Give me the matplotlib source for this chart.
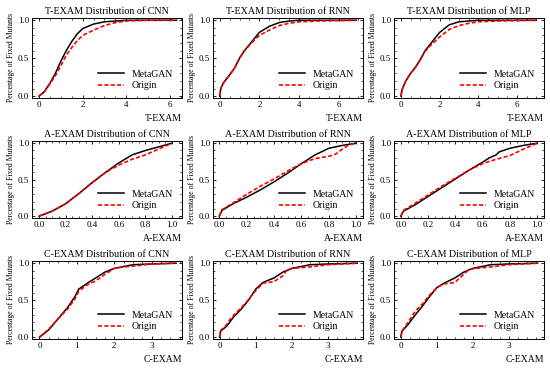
import numpy as np
import matplotlib
matplotlib.use('Agg')
import matplotlib.pyplot as plt
from matplotlib.ticker import AutoMinorLocator

plt.rcParams['font.family'] = ['Liberation Serif', 'DejaVu Serif']

MODELS = ['CNN', 'RNN', 'MLP']
METRICS = ['T-EXAM', 'A-EXAM', 'C-EXAM']

# ---- T-EXAM curves (x, cumulative fraction) ----
t_cnn_meta_x = [0, 0.25, 0.5, 0.75, 1.0, 1.25, 1.5, 1.75, 2.0, 2.5, 3.0, 3.5, 4.0, 6.3]
t_cnn_meta_y = [0, 0.06, 0.17, 0.30, 0.46, 0.60, 0.72, 0.82, 0.89, 0.95, 0.98, 0.99, 1.0, 1.0]
t_cnn_orig_x = [0, 0.25, 0.5, 0.75, 1.0, 1.25, 1.5, 1.75, 2.0, 2.5, 3.0, 3.5, 4.0, 5.0, 6.3]
t_cnn_orig_y = [0, 0.06, 0.16, 0.27, 0.40, 0.54, 0.64, 0.73, 0.80, 0.87, 0.93, 0.97, 0.99, 1.0, 1.0]

t_rnn_meta_x = [0, 0.05, 0.2, 0.5, 0.75, 1.0, 1.25, 1.5, 1.75, 2.0, 2.5, 3.0, 3.5, 4.0, 6.9]
t_rnn_meta_y = [0, 0.10, 0.18, 0.28, 0.37, 0.50, 0.60, 0.68, 0.76, 0.84, 0.92, 0.97, 0.99, 1.0, 1.0]
t_rnn_orig_x = [0, 0.05, 0.2, 0.5, 0.75, 1.0, 1.25, 1.5, 1.75, 2.0, 2.5, 3.0, 3.5, 4.0, 5.0, 6.9]
t_rnn_orig_y = [0, 0.10, 0.18, 0.28, 0.37, 0.50, 0.60, 0.67, 0.74, 0.80, 0.87, 0.93, 0.96, 0.98, 0.99, 1.0]

t_mlp_meta_x = [0, 0.05, 0.25, 0.5, 0.75, 1.0, 1.25, 1.5, 1.75, 2.0, 2.5, 3.0, 3.5, 4.0, 7.0]
t_mlp_meta_y = [0, 0.08, 0.20, 0.30, 0.38, 0.48, 0.60, 0.68, 0.76, 0.84, 0.94, 0.98, 0.99, 1.0, 1.0]
t_mlp_orig_x = [0, 0.05, 0.25, 0.5, 0.75, 1.0, 1.25, 1.5, 1.75, 2.0, 2.5, 3.0, 3.5, 4.0, 5.0, 7.0]
t_mlp_orig_y = [0, 0.08, 0.20, 0.30, 0.38, 0.48, 0.59, 0.66, 0.72, 0.78, 0.88, 0.93, 0.96, 0.98, 0.99, 1.0]

# ---- A-EXAM curves ----
a_cnn_meta_x = [0, 0.1, 0.2, 0.3, 0.4, 0.5, 0.6, 0.7, 0.8, 0.9, 1.0]
a_cnn_meta_y = [0, 0.07, 0.17, 0.31, 0.46, 0.60, 0.73, 0.84, 0.90, 0.95, 1.0]
a_cnn_orig_x = [0, 0.1, 0.2, 0.3, 0.4, 0.5, 0.6, 0.7, 0.8, 0.9, 1.0]
a_cnn_orig_y = [0, 0.07, 0.17, 0.31, 0.46, 0.60, 0.70, 0.78, 0.84, 0.92, 1.0]

a_rnn_meta_x = [0, 0.02, 0.1, 0.2, 0.3, 0.4, 0.5, 0.6, 0.7, 0.8, 0.9, 1.0]
a_rnn_meta_y = [0, 0.08, 0.17, 0.26, 0.36, 0.47, 0.59, 0.72, 0.84, 0.93, 0.97, 1.0]
a_rnn_orig_x = [0, 0.02, 0.1, 0.2, 0.3, 0.4, 0.5, 0.6, 0.7, 0.8, 0.85, 0.9, 0.95, 1.0]
a_rnn_orig_y = [0, 0.09, 0.18, 0.30, 0.41, 0.51, 0.62, 0.72, 0.79, 0.82, 0.85, 0.92, 0.98, 1.0]

a_mlp_meta_x = [0, 0.02, 0.1, 0.2, 0.3, 0.4, 0.5, 0.6, 0.65, 0.7, 0.72, 0.8, 0.9, 1.0]
a_mlp_meta_y = [0, 0.07, 0.15, 0.27, 0.39, 0.51, 0.63, 0.74, 0.80, 0.84, 0.88, 0.93, 0.97, 1.0]
a_mlp_orig_x = [0, 0.02, 0.1, 0.2, 0.3, 0.4, 0.5, 0.6, 0.7, 0.8, 0.9, 1.0]
a_mlp_orig_y = [0, 0.08, 0.17, 0.29, 0.41, 0.52, 0.63, 0.72, 0.78, 0.83, 0.92, 1.0]

# ---- C-EXAM curves ----
c_cnn_meta_x = [0, 0.25, 0.5, 0.75, 0.95, 1.05, 1.25, 1.5, 1.75, 2.0, 2.5, 3.0, 3.65]
c_cnn_meta_y = [0, 0.10, 0.25, 0.40, 0.55, 0.65, 0.72, 0.80, 0.88, 0.93, 0.98, 0.99, 1.0]
c_cnn_orig_x = [0, 0.25, 0.5, 0.75, 0.95, 1.05, 1.25, 1.5, 1.75, 2.0, 2.25, 2.5, 3.0, 3.65]
c_cnn_orig_y = [0, 0.11, 0.25, 0.38, 0.52, 0.62, 0.70, 0.76, 0.85, 0.93, 0.95, 0.96, 0.99, 1.0]

c_rnn_meta_x = [0, 0.03, 0.2, 0.4, 0.6, 0.8, 1.0, 1.2, 1.5, 1.75, 2.0, 2.5, 3.0, 3.8]
c_rnn_meta_y = [0, 0.08, 0.15, 0.28, 0.38, 0.50, 0.65, 0.74, 0.80, 0.88, 0.93, 0.98, 0.99, 1.0]
c_rnn_orig_x = [0, 0.03, 0.2, 0.3, 0.5, 0.7, 1.0, 1.2, 1.5, 1.75, 1.85, 2.0, 2.5, 3.0, 3.8]
c_rnn_orig_y = [0, 0.09, 0.17, 0.25, 0.35, 0.45, 0.63, 0.73, 0.75, 0.83, 0.90, 0.93, 0.95, 0.98, 1.0]

c_mlp_meta_x = [0, 0.03, 0.2, 0.4, 0.6, 0.8, 1.0, 1.2, 1.5, 1.75, 2.0, 2.5, 3.0, 3.8]
c_mlp_meta_y = [0, 0.08, 0.17, 0.30, 0.42, 0.55, 0.67, 0.73, 0.80, 0.88, 0.93, 0.98, 0.99, 1.0]
c_mlp_orig_x = [0, 0.03, 0.2, 0.4, 0.6, 0.8, 1.0, 1.2, 1.5, 1.75, 1.9, 2.5, 3.0, 3.8]
c_mlp_orig_y = [0, 0.08, 0.20, 0.35, 0.45, 0.57, 0.67, 0.72, 0.74, 0.85, 0.92, 0.95, 0.98, 1.0]

CURVES = {
	('T-EXAM', 'CNN'): (t_cnn_meta_x, t_cnn_meta_y, t_cnn_orig_x, t_cnn_orig_y),
	('T-EXAM', 'RNN'): (t_rnn_meta_x, t_rnn_meta_y, t_rnn_orig_x, t_rnn_orig_y),
	('T-EXAM', 'MLP'): (t_mlp_meta_x, t_mlp_meta_y, t_mlp_orig_x, t_mlp_orig_y),
	('A-EXAM', 'CNN'): (a_cnn_meta_x, a_cnn_meta_y, a_cnn_orig_x, a_cnn_orig_y),
	('A-EXAM', 'RNN'): (a_rnn_meta_x, a_rnn_meta_y, a_rnn_orig_x, a_rnn_orig_y),
	('A-EXAM', 'MLP'): (a_mlp_meta_x, a_mlp_meta_y, a_mlp_orig_x, a_mlp_orig_y),
	('C-EXAM', 'CNN'): (c_cnn_meta_x, c_cnn_meta_y, c_cnn_orig_x, c_cnn_orig_y),
	('C-EXAM', 'RNN'): (c_rnn_meta_x, c_rnn_meta_y, c_rnn_orig_x, c_rnn_orig_y),
	('C-EXAM', 'MLP'): (c_mlp_meta_x, c_mlp_meta_y, c_mlp_orig_x, c_mlp_orig_y),
}

XLIMS = {
	('T-EXAM', 'CNN'): (-0.32, 6.55), ('T-EXAM', 'RNN'): (-0.34, 7.23), ('T-EXAM', 'MLP'): (-0.36, 7.4),
	('A-EXAM', 'CNN'): (-0.053, 1.075), ('A-EXAM', 'RNN'): (-0.046, 1.05), ('A-EXAM', 'MLP'): (-0.05, 1.05),
	('C-EXAM', 'CNN'): (-0.2, 3.81), ('C-EXAM', 'RNN'): (-0.18, 3.96), ('C-EXAM', 'MLP'): (-0.19, 3.98),
}

W, H = 550, 369
COL_LEFT = [32, 213, 394]
AX_W = 150
ROW_TOP = [18, 141, 261]
ROW_BOT = [98, 218, 339]

fig = plt.figure(figsize=(W / 100, H / 100), dpi=100)

for r, metric in enumerate(METRICS):
	for c, model in enumerate(MODELS):
		left = COL_LEFT[c] / W
		bottom = 1 - ROW_BOT[r] / H
		height = (ROW_BOT[r] - ROW_TOP[r]) / H
		ax = fig.add_axes([left, bottom, AX_W / W, height])

		mx, my, ox, oy = CURVES[(metric, model)]
		ax.plot(mx, my, color='black', lw=1.1, label='MetaGAN')
		ax.plot(ox, oy, color='red', lw=1.2, ls=(0, (2.5, 1.3)), label='Origin')

		ax.set_xlim(*XLIMS[(metric, model)])
		ax.set_ylim(-0.025, 1.03)
		ax.set_yticks([0.0, 0.5, 1.0])
		if metric == 'A-EXAM':
			ax.set_xticks([0.0, 0.2, 0.4, 0.6, 0.8, 1.0])
		elif metric == 'T-EXAM':
			ax.set_xticks([0, 2, 4, 6])
		else:
			ax.set_xticks([0, 1, 2, 3])
		ax.yaxis.set_major_formatter(plt.FormatStrFormatter('%.1f'))
		if metric == 'A-EXAM':
			ax.xaxis.set_major_formatter(plt.FormatStrFormatter('%.1f'))
		ax.xaxis.set_minor_locator(AutoMinorLocator(4))
		ax.yaxis.set_minor_locator(AutoMinorLocator(5))
		ax.tick_params(which='both', direction='in', top=True, right=True, labelsize=6.5, pad=2)
		ax.tick_params(which='major', length=2.5, width=0.6)
		ax.tick_params(which='minor', length=1.3, width=0.5)
		for sp in ax.spines.values():
			sp.set_linewidth(0.7)

		ax.set_title('%s Distribution of %s' % (metric, model), fontsize=7.2, pad=3)
		ax.set_xlabel(metric, fontsize=7, loc='right', labelpad=4)
		ax.set_ylabel('Percentage of Fixed Mutants', fontsize=5.6, labelpad=2)
		ax.legend(loc='lower right', frameon=False, fontsize=7, handlelength=2.6,
				  handletextpad=0.8, borderaxespad=0.25, labelspacing=0.25,
				  bbox_to_anchor=(0.98, 0.02))

fig.savefig('out.png', dpi=100)
